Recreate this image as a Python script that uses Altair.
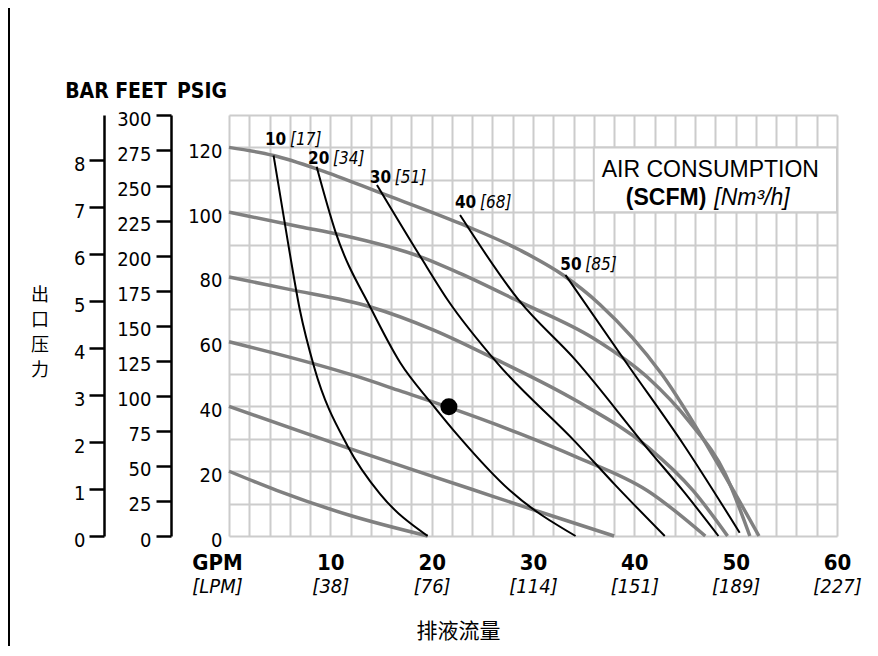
import json
import altair as alt
import pandas as pd

COND = "'Liberation Sans Narrow', 'DejaVu Sans Condensed', 'Arial Narrow', sans-serif"
REG = "'Liberation Sans', Arial, sans-serif"
CJK = "'Noto Sans CJK SC', sans-serif"

# ---------------- axes ----------------
gpm_ticks = list(range(0, 61, 2))
gpm_labels = ["GPM", "10", "20", "30", "40", "50", "60"]
lpm_labels = ["[LPM]", "[38]", "[76]", "[114]", "[151]", "[189]", "[227]"]
psi_ticks = list(range(0, 131, 10))
feet_ticks = list(range(0, 301, 25))
bar_ticks = list(range(0, 9))

# ---------------- outlet pressure curves (grey, PSIG) ----------------
p20_x = [0, 4.7, 11.9, 19.6]
p20_y = [20, 14.1, 6.4, 0]
p40_x = [0, 11.7, 23.8, 30.7, 38.0]
p40_y = [40, 27.2, 14.6, 7.4, 0]
p60_x = [0, 12.4, 16.9, 21.7, 28.7, 34.2, 41.3, 47.0]
p60_y = [60, 49.5, 44.8, 39.7, 31.6, 24.5, 14.0, 0]
p80_x = [0, 5.7, 13.9, 20.2, 26.5, 34.2, 41.3, 45.8, 49.2]
p80_y = [80, 76.3, 70.8, 63.6, 54.3, 41.9, 27.5, 14.0, 0]
p100_x = [0, 7.0, 11.0, 18.9, 22.8, 28.7, 36.0, 41.3, 45.5, 49.0, 51.4]
p100_y = [100, 95.5, 93.0, 86.2, 81.1, 72.3, 61.0, 49.0, 35.0, 19.0, 0]
p120_x = [0, 4.4, 9.0, 14.9, 22.8, 28.7, 33.0, 36.6, 42.7, 48.3, 52.3]
p120_y = [120, 117.5, 113.0, 106.0, 96.5, 88.3, 80.5, 71.5, 50.0, 22.0, 0]

# ---------------- air consumption curves (black, SCFM) ----------------
a10_x = [4.4, 5.95, 7.0, 8.4, 11.75, 14.9, 19.6]
a10_y = [117.5, 88.2, 69.7, 52.2, 27.5, 13.0, 0]
a20_x = [8.65, 10.5, 14.1, 16.9, 20.0, 22.8, 27.7, 34.2]
a20_y = [114.0, 94.0, 69.7, 53.5, 40.9, 30.3, 14.1, 0]
a30_x = [14.6, 18.9, 21.6, 26.5, 34.2, 38.1, 43.0]
a30_y = [108.4, 86.2, 72.8, 53.3, 29.0, 15.8, 0]
a40_x = [22.8, 28.6, 34.2, 41.3, 44.8, 48.3]
a40_y = [99.1, 72.8, 54.3, 27.0, 14.0, 0]
a50_x = [33.2, 39.5, 44.8, 50.4]
a50_y = [80.6, 52.2, 28.5, 1.0]

# curve labels
scfm_vals = ["10", "20", "30", "40", "50"]
nm3_vals = ["[17]", "[34]", "[51]", "[68]", "[85]"]
scfm_lab_x = [3.55, 7.8, 13.9, 22.3, 32.7]
scfm_lab_y = [120.7, 114.9, 108.9, 101.2, 82.1]

# operating point
pt_x = [21.7]
pt_y = [39.9]

# legend box
box_x = [36]
box_x2 = [60]
box_y = [100]
box_y2 = [120]

GRID = "#cccccc"

def long_df(prefix, names, xs, ys):
    rows = []
    for n, xx, yy in zip(names, xs, ys):
        for a, b in zip(xx, yy):
            rows.append({"curve": f"{prefix}{n}", "gpm": a, "psi": b})
    return pd.DataFrame(rows)

gray_df = long_df("p", [20, 40, 60, 80, 100, 120],
                  [p20_x, p40_x, p60_x, p80_x, p100_x, p120_x],
                  [p20_y, p40_y, p60_y, p80_y, p100_y, p120_y])
black_df = long_df("a", [10, 20, 30, 40, 50],
                   [a10_x, a20_x, a30_x, a40_x, a50_x],
                   [a10_y, a20_y, a30_y, a40_y, a50_y])

xs = alt.Scale(domain=[0, 60], nice=False, zero=False)
ys = alt.Scale(domain=[0, 130], nice=False, zero=False)

gpm_expr = ("datum.value % 10 === 0 ? " + json.dumps(gpm_labels)
            + "[round(datum.value / 10)] : ''")
lpm_expr = ("datum.value % 10 === 0 ? " + json.dumps(lpm_labels)
            + "[round(datum.value / 10)] : ''")
shift0 = {"condition": {"test": "datum.value === 0", "value": -12}, "value": 0}

x_main = alt.X("gpm:Q", scale=xs, axis=alt.Axis(
    orient="bottom", values=gpm_ticks, grid=True, gridColor=GRID, gridWidth=2,
    ticks=False, domain=False, labelExpr=gpm_expr, labelFont=COND,
    labelFontWeight="bold", labelFontSize=22, labelColor="black",
    labelPadding=16, labelBaseline="top", labelOverlap=False, labelFlush=False,
    labelOffset=shift0, title=None))
y_main = alt.Y("psi:Q", scale=ys, axis=alt.Axis(
    orient="left", values=psi_ticks, grid=True, gridColor=GRID, gridWidth=2,
    ticks=False, tickSize=0, domain=False,
    labelExpr="datum.value % 20 === 0 && datum.value <= 120 ? datum.label : ''",
    labelFont=COND, labelFontSize=20, labelColor="black", labelPadding=7,
    labelOffset=4, labelOverlap=False, labelFlush=False, title=None))

xn = alt.X("gpm:Q", scale=xs, axis=None)
yn = alt.Y("psi:Q", scale=ys, axis=None)

gray = alt.Chart(gray_df).mark_line(interpolate="monotone", color="#808080",
                                    strokeWidth=3.5).encode(
    x=x_main, y=y_main, detail="curve:N")

black = alt.Chart(black_df).mark_line(interpolate="monotone", color="black",
                                      strokeWidth=2).encode(
    x=xn, y=yn, detail="curve:N")

box = alt.Chart(pd.DataFrame({"gpm": box_x, "gpm2": box_x2, "psi": box_y, "psi2": box_y2})
                ).mark_rect(fill="white", stroke=GRID, strokeWidth=2).encode(
    x=xn, x2="gpm2:Q", y=yn, y2="psi2:Q")

dot = alt.Chart(pd.DataFrame({"gpm": pt_x, "psi": pt_y})).mark_circle(
    size=290, color="black", opacity=1).encode(x=xn, y=yn)

lab_df = pd.DataFrame({"gpm": scfm_lab_x, "psi": scfm_lab_y, "n": scfm_vals, "b": nm3_vals})
lab_bold = alt.Chart(lab_df).mark_text(align="left", baseline="alphabetic", font=COND,
                                       fontWeight="bold", fontSize=17, color="black").encode(
    x=xn, y=yn, text="n:N")
lab_it = alt.Chart(lab_df).mark_text(align="left", baseline="alphabetic", font=COND,
                                     fontStyle="italic", fontSize=17, dx=25, color="black").encode(
    x=xn, y=yn, text="b:N")

air_title = ["AIR CONSUMPTION"]
air_df = pd.DataFrame({"gpm": [47.5], "psi": [110.9], "t": air_title})
air1 = alt.Chart(air_df).mark_text(align="center", baseline="alphabetic", font=REG,
                                   fontSize=23, color="black").encode(x=xn, y=yn, text="t:N")
air_df2 = pd.DataFrame({"gpm": [47.5], "psi": [102.2], "a": ["(SCFM)"], "b": ["[Nm³/h]"]})
air2 = alt.Chart(air_df2).mark_text(align="right", baseline="alphabetic", font=REG,
                                    fontSize=23, fontWeight="bold", dx=-4, color="black").encode(
    x=xn, y=yn, text="a:N")
air3 = alt.Chart(air_df2).mark_text(align="left", baseline="alphabetic", font=REG,
                                    fontSize=23, fontStyle="italic", dx=4, color="black").encode(
    x=xn, y=yn, text="b:N")

# secondary bottom axis: LPM labels + axis title
lpm_layer = alt.Chart(pd.DataFrame({"v": gpm_ticks})).mark_point(opacity=0).encode(
    x=alt.X("v:Q", scale=xs, axis=alt.Axis(
        orient="bottom", values=gpm_ticks, grid=False, ticks=False, domain=False,
        labelExpr=lpm_expr, labelFont=COND, labelFontStyle="italic", labelFontSize=20,
        labelColor="black", labelPadding=40, labelBaseline="top", labelOverlap=False,
        labelFlush=False, labelOffset=shift0,
        title="排液流量", titleFont=CJK, titleFontSize=21, titleFontWeight="normal",
        titleColor="black", titleX=229, titleY=95, titleAlign="center",
        titleBaseline="middle", titleAngle=0)))

feet_layer = alt.Chart(pd.DataFrame({"v": feet_ticks})).mark_point(opacity=0).encode(
    y=alt.Y("v:Q", scale=alt.Scale(domain=[0, 300.3], nice=False, zero=False),
            axis=alt.Axis(orient="left", offset=58, values=feet_ticks, grid=False,
                          tickSize=15, tickWidth=2.5, tickColor="black",
                          domainColor="black", domainWidth=2.5, labelPadding=5,
                          labelFont=COND, labelFontSize=20, labelColor="black",
                          labelOffset=4, labelOverlap=False, labelFlush=False, title=None)))

bar_layer = alt.Chart(pd.DataFrame({"v": bar_ticks})).mark_point(opacity=0).encode(
    y=alt.Y("v:Q", scale=alt.Scale(domain=[0, 8.96], nice=False, zero=False),
            axis=alt.Axis(orient="left", offset=125, values=bar_ticks, grid=False,
                          tickSize=15, tickWidth=2.5, tickColor="black",
                          domainColor="black", domainWidth=2.5, labelPadding=4,
                          labelFont=COND, labelFontSize=20, labelColor="black",
                          labelOffset=4, labelOverlap=False, labelFlush=False, title=None)))

# unit headers above the scales
hdr_text = ["BAR", "FEET", "PSIG"]
hdr_px = [-142, -88, -27]
hdr = alt.Chart(pd.DataFrame({"t": hdr_text, "px": hdr_px, "py": [-17] * 3})).mark_text(
    align="center", baseline="alphabetic", font=COND, fontWeight="bold", fontSize=21,
    color="black").encode(x=alt.X("px:Q", scale=None), y=alt.Y("py:Q", scale=None), text="t:N")

ylab_chars = ["出", "口", "压", "力"]
ylab_py = [181, 206, 231, 256]
ylab = alt.Chart(pd.DataFrame({"t": ylab_chars, "py": ylab_py})).mark_text(
    align="center", baseline="middle", font=CJK, fontSize=18, color="black").encode(
    x=alt.value(-189), y=alt.Y("py:Q", scale=None), text="t:N")

edge = alt.Chart(pd.DataFrame({"k": [0]})).mark_rule(color="black", strokeWidth=2).encode(
    x=alt.value(-220), y=alt.value(-107), y2=alt.value(535))

chart = alt.layer(
    gray, box, black, dot, lab_bold, lab_it, air1, air2, air3,
    lpm_layer, feet_layer, bar_layer, hdr, ylab, edge
).resolve_scale(x="independent", y="independent").properties(
    width=608, height=421,
    autosize=alt.AutoSizeParams(type="none"),
    padding={"left": 221, "top": 107, "right": 30, "bottom": 110},
    background="white",
).configure_view(strokeWidth=0)

chart.save("out.html", embed_options={"renderer": "svg", "actions": False})
